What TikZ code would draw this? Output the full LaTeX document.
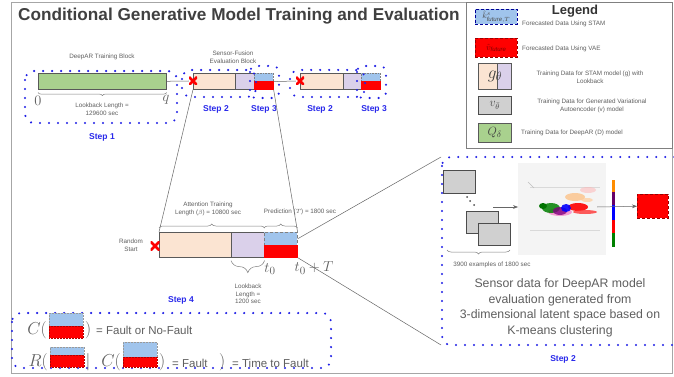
\documentclass[tikz,border=0pt]{standalone}
\usepackage{fontspec}
\setmainfont{Liberation Sans}
\usetikzlibrary{decorations.pathreplacing,arrows.meta,calc}
\definecolor{peach}{RGB}{251,228,210}
\definecolor{lav}{RGB}{218,208,234}
\definecolor{lblue}{RGB}{160,196,236}
\definecolor{dgreen}{RGB}{169,209,142}
\definecolor{dotblue}{RGB}{30,30,230}
\definecolor{stepblue}{RGB}{40,40,235}
\definecolor{txtgray}{RGB}{95,95,95}
\definecolor{boxgray}{RGB}{208,208,208}
\begin{document}
\begin{tikzpicture}[x=1pt,y=-1pt,
  dotbox/.style={draw=dotblue, line width=2.3pt, line cap=round, dash pattern=on 0pt off 9pt, rounded corners=9pt},
  lbl/.style={font=\fontsize{6.3}{7.6}\selectfont, text=txtgray, align=center, inner sep=0pt},
  steplbl/.style={font=\fontsize{8.5}{10}\selectfont\bfseries, text=stepblue, inner sep=0pt},
  bar/.style={draw=black!65, line width=0.6pt, inner sep=0pt, anchor=north west},
  brc/.style={decorate, decoration={brace, amplitude=#1}, draw=gray, line width=0.5pt},
  brc/.default=4pt,
  conn/.style={draw=black!60, line width=0.5pt},
  xmark/.style={minimum size=8pt, inner sep=0pt, path picture={
     \draw[red, line width=2.6pt] (path picture bounding box.north west)--(path picture bounding box.south east)
       (path picture bounding box.north east)--(path picture bounding box.south west);}},
  bigm/.style={font=\fontsize{15}{15}\selectfont, text=txtgray, inner sep=0pt},
  eqtxt/.style={font=\fontsize{11.5}{13}\selectfont, text=txtgray, inner sep=0pt, anchor=west},
  icb/.style={fill=lblue, draw=black!40, densely dotted, line width=0.5pt, inner sep=0pt, anchor=north west},
  icr/.style={fill=red, draw=red!70!black, densely dotted, line width=0.5pt, inner sep=0pt, anchor=north west},
  grayrect/.style={draw=black!70, fill=boxgray, line width=0.6pt, inner sep=0pt, anchor=north west}
]
\useasboundingbox (0,0) rectangle (674,377);
\fill[white] (0,0) rectangle (674,377);
% outer frame
\draw[gray!70, line width=0.8pt] (11,2) rectangle (672,373);

% title
\node[font=\fontsize{17.2}{19}\selectfont\bfseries, text=black!75, anchor=west, inner sep=0pt] (title) at (18,16) {Conditional Generative Model Training and Evaluation};

% ---------------- Legend ----------------
\draw[gray, line width=0.7pt] (466,2) rectangle (672,148);
\node[font=\fontsize{13}{15}\selectfont\bfseries, text=black!80, inner sep=0pt] (legtitle) at (575,11) {Legend};
\node[minimum width=42pt, minimum height=15pt, fill=lblue, draw=blue!60!black, densely dashed, line width=0.6pt, inner sep=0pt, anchor=north west] (i1) at (475,9) {};
\node[text=black!70, font=\fontsize{8}{8}\selectfont, inner sep=0pt] (k1) at (i1.center) {$\hat{k}^{s}_{\mathit{future},T}$};
\node[lbl, anchor=west] (t1) at (522,24) {Forecasted Data Using STAM};
\node[minimum width=42pt, minimum height=19pt, fill=red, draw=red!60!black, densely dashed, line width=0.6pt, inner sep=0pt, anchor=north west] (i2) at (475,38) {};
\node[text=red!50!black, font=\fontsize{9}{9}\selectfont, inner sep=0pt] (v2) at (i2.center) {$\hat{v}_{\mathit{future}}$};
\node[lbl, anchor=west] (t2) at (522,49) {Forecasted Data Using VAE};
\node[bar, fill=peach, minimum width=19pt, minimum height=26pt] (i3a) at (478,63) {};
\node[bar, fill=lav, minimum width=14pt, minimum height=26pt] (i3b) at (497,63) {};
\node[bigm, font=\fontsize{17}{17}\selectfont, text=black!75] (g3) at (495,76) {$g_\theta$};
\node[lbl] (t3) at (590,77) {Training Data for STAM model (g) with\\Lookback};
\node[grayrect, minimum width=33pt, minimum height=18pt] (i4) at (478,96) {};
\node[font=\fontsize{12}{12}\selectfont, text=black!70, inner sep=0pt] (v4) at (i4.center) {$v_{\bar\theta}$};
\node[lbl] (t4) at (592,106) {Training Data for Generated Variational\\Autoencoder (v) model};
\node[bar, fill=dgreen, minimum width=33pt, minimum height=19pt] (i5) at (478,123) {};
\node[font=\fontsize{13}{13}\selectfont, text=black!75, inner sep=0pt] (q5) at (i5.center) {$Q_\delta$};
\node[lbl, anchor=west] (t5) at (521,133) {Training Data for DeepAR (D) model};

% ---------------- Step 1 ----------------
\node[bar, fill=dgreen, minimum width=128pt, minimum height=16pt] (dar) at (38,73) {};
\node[lbl] (dartxt) at (102,57) {DeepAR Training Block};
\draw[brc=3pt] ([yshift=-3pt]dar.south east) -- ([yshift=-3pt]dar.south west);
\node[lbl] (lb1) at (102,109) {Lookback Length =\\129600 sec};
\node[bigm] (zero) at (38,101) {$0$};
\node[bigm] (qq) at (166,100) {$q$};
\draw[dotbox] (25,71) rectangle (177,123);
\node[steplbl] (s1) at (102,137) {Step 1};

% ---------------- Block A ----------------
\node[lbl] (sfe) at (233,57) {Sensor-Fusion\\Evaluation Block};
\node[bar, fill=peach, minimum width=42pt, minimum height=16pt] (pa) at (193,73) {};
\node[bar, fill=lav, minimum width=19pt, minimum height=16pt] (la) at (235,73) {};
\node[bar, fill=lblue, draw=gray, densely dotted, minimum width=19pt, minimum height=8pt] (ba) at (254,73) {};
\node[bar, fill=red, draw=red, minimum width=19pt, minimum height=8pt] (ra) at (254,81) {};
\node[xmark] (xa) at (193,81) {};
\draw[conn] (dar.east) -- (xa.west);
\draw[dotbox] (182,70) rectangle (256,97);
\draw[dotbox, rounded corners=6pt] (250,66) rectangle (279,98);
\node[steplbl] (s2a) at (216,109) {Step 2};
\node[steplbl] (s3a) at (264,109) {Step 3};

% ---------------- Block B ----------------
\node[bar, fill=peach, minimum width=43pt, minimum height=16pt] (pb) at (300,73) {};
\node[bar, fill=lav, minimum width=18pt, minimum height=16pt] (lb) at (343,73) {};
\node[bar, fill=lblue, draw=gray, densely dotted, minimum width=19pt, minimum height=8pt] (bb) at (361,73) {};
\node[bar, fill=red, draw=red, minimum width=19pt, minimum height=8pt] (rb) at (361,81) {};
\node[xmark] (xb) at (300,81) {};
\draw[conn] (ba.south east) -- (xb.west);
\draw[dotbox] (290,70) rectangle (365,97);
\draw[dotbox, rounded corners=6pt] (357,66) rectangle (386,98);
\node[steplbl] (s2b) at (320,109) {Step 2};
\node[steplbl] (s3b) at (374,109) {Step 3};

% ---------------- Step 4 ----------------
\node[bar, fill=peach, minimum width=72pt, minimum height=25pt] (p4) at (159,232) {};
\node[bar, fill=lav, minimum width=33pt, minimum height=25pt] (l4) at (231,232) {};
\node[bar, fill=lblue, draw=black!50, densely dashed, minimum width=33pt, minimum height=13pt] (b4) at (264,232) {};
\node[bar, fill=red, draw=red, minimum width=33pt, minimum height=12pt] (r4) at (264,245) {};
\node[xmark, minimum size=9pt] (x4) at (155,246) {};
\draw[conn] (pa.south west) -- (p4.north west);
\draw[conn] (ra.south east) -- (b4.north east);
\node[lbl] (rs) at (131,245) {Random\\Start};
\draw[brc=4pt] ([yshift=4pt]p4.north west) -- ([yshift=4pt]l4.north east);
\node[lbl] (atl) at (208,209) {Attention Training\\Length ($\beta$) = 10800 sec};
\draw[brc=4pt] ([yshift=4pt]b4.north west) -- ([yshift=4pt]b4.north east);
\node[lbl] (pred) at (300,212) {Prediction ($T$) = 1800 sec};
\draw[brc=12pt] ([yshift=-3pt]l4.south east) -- ([yshift=-3pt]l4.south west);
\node[lbl] (lb4) at (248,294) {Lookback\\Length =\\1200 sec};
\node[bigm] (t0) at (270,269) {$t_0$};
\node[bigm] (t0T) at (314,268) {$t_0+T$};
\node[steplbl] (s4) at (181,300) {Step 4};

% ---------------- Right Step 2 box ----------------
\coordinate (rtl) at (441,157);
\coordinate (rbl) at (441,345);
\draw[conn] (b4.east) -- (rtl);
\draw[conn] (r4.south east) -- (rbl);
\draw[dotbox] (442,157) rectangle (700,345);
\node[steplbl] (s2c) at (563,359) {Step 2};
\node[grayrect, minimum width=32pt, minimum height=23pt] (g1) at (443,170) {};
\node[grayrect, minimum width=32pt, minimum height=22pt] (g2) at (466,211) {};
\node[grayrect, minimum width=32pt, minimum height=22pt] (g3r) at (478,223) {};
\fill[black!70] (467,197) circle (1pt) (470,201) circle (1pt) (474,205) circle (1pt);
\draw[brc=4pt] (510,250) -- (447,250);
\node[lbl] (ex) at (492,265) {3900 examples of 1800 sec};
% scatter plot
\node[fill=gray!9, minimum width=88pt, minimum height=92pt, inner sep=0pt, anchor=north west] (plot) at (518,163) {};
\begin{scope}
  \draw[gray!30, line width=0.3pt] (530,187) -- (600,187) (530,230)--(600,230);
  \draw[gray!50, line width=0.4pt] (528,182) -- (534,188);
  \fill[orange!60, opacity=0.6] (575,197) ellipse (10pt and 4pt);
  \fill[red!30, opacity=0.5] (588,190) ellipse (8pt and 3pt);
  \fill[magenta!60, opacity=0.6] (560,212) ellipse (12pt and 4pt);
  \fill[red, opacity=0.9] (578,207) ellipse (10pt and 4pt);
  \fill[red!80, opacity=0.8] (585,212) ellipse (12pt and 2pt);
  \fill[green!50!black, opacity=0.85] (551,208) ellipse (9pt and 5pt);
  \fill[violet, opacity=0.8] (560,211) ellipse (7pt and 4pt);
  \fill[blue, opacity=0.9] (566,208) ellipse (5pt and 4pt);
  \fill[green!45!black] (543,206) ellipse (4pt and 3pt);
  \fill[orange!40, opacity=0.7] (587,200) ellipse (6pt and 2pt);
\end{scope}
\fill[orange!90!yellow] (612,180) rectangle (615,192);
\fill[violet!80!black] (612,192) rectangle (615,205);
\fill[blue] (612,205) rectangle (615,220);
\fill[red] (612,220) rectangle (615,233);
\fill[green!50!black] (612,233) rectangle (615,247);
\node[fill=red, draw=red!60!black, densely dashed, line width=0.5pt, minimum width=31pt, minimum height=24pt, inner sep=0pt, anchor=north west] (vout) at (637,194) {};
\draw[conn, -{Stealth[length=5pt]}] (493,207) -- (plot.west |- 0,207);
\draw[conn, -{Stealth[length=5pt]}] (597,207) -- (vout.west);
\node[font=\fontsize{12.3}{15.6}\selectfont, text=txtgray, align=center, inner sep=0pt] (sens) at (560,308) {Sensor data for DeepAR model\\evaluation generated from\\3-dimensional latent space based on\\K-means clustering};

% ---------------- Bottom-left equations ----------------
\draw[dotbox] (12,313) rectangle (331,368);
\node[bigm, font=\fontsize{17}{17}\selectfont, anchor=east] (c1) at (47,330) {$C($};
\node[icb, minimum width=34pt, minimum height=13pt] (c1b) at (49,313) {};
\node[icr, minimum width=34pt, minimum height=12pt] (c1r) at (49,326) {};
\node[bigm, font=\fontsize{17}{17}\selectfont, anchor=west] (c1c) at (85,330) {$)$};
\node[eqtxt] (e1) at (96,330) {= Fault or No-Fault};

\node[bigm, font=\fontsize{17}{17}\selectfont, anchor=east] (r2) at (48,362) {$R($};
\node[icb, minimum width=34pt, minimum height=8pt] (r2b) at (50,347) {};
\node[icr, minimum width=34pt, minimum height=12pt] (r2r) at (50,355) {};
\node[bigm, font=\fontsize{17}{17}\selectfont] (bar2) at (88,362) {$|$};
\node[bigm, font=\fontsize{17}{17}\selectfont, anchor=east] (c2) at (121,362) {$C($};
\node[icb, minimum width=34pt, minimum height=15pt] (c2b) at (123,342) {};
\node[icr, minimum width=34pt, minimum height=10pt] (c2r) at (123,357) {};
\node[bigm, font=\fontsize{17}{17}\selectfont, anchor=west] (c2c) at (159,362) {$)$};
\node[eqtxt] (e2) at (172,363) {= Fault};
\node[bigm, font=\fontsize{17}{17}\selectfont, anchor=west] (c2d) at (219,362) {$)$};
\node[eqtxt] (e3) at (232,363) {= Time to Fault};
\end{tikzpicture}
\end{document}
